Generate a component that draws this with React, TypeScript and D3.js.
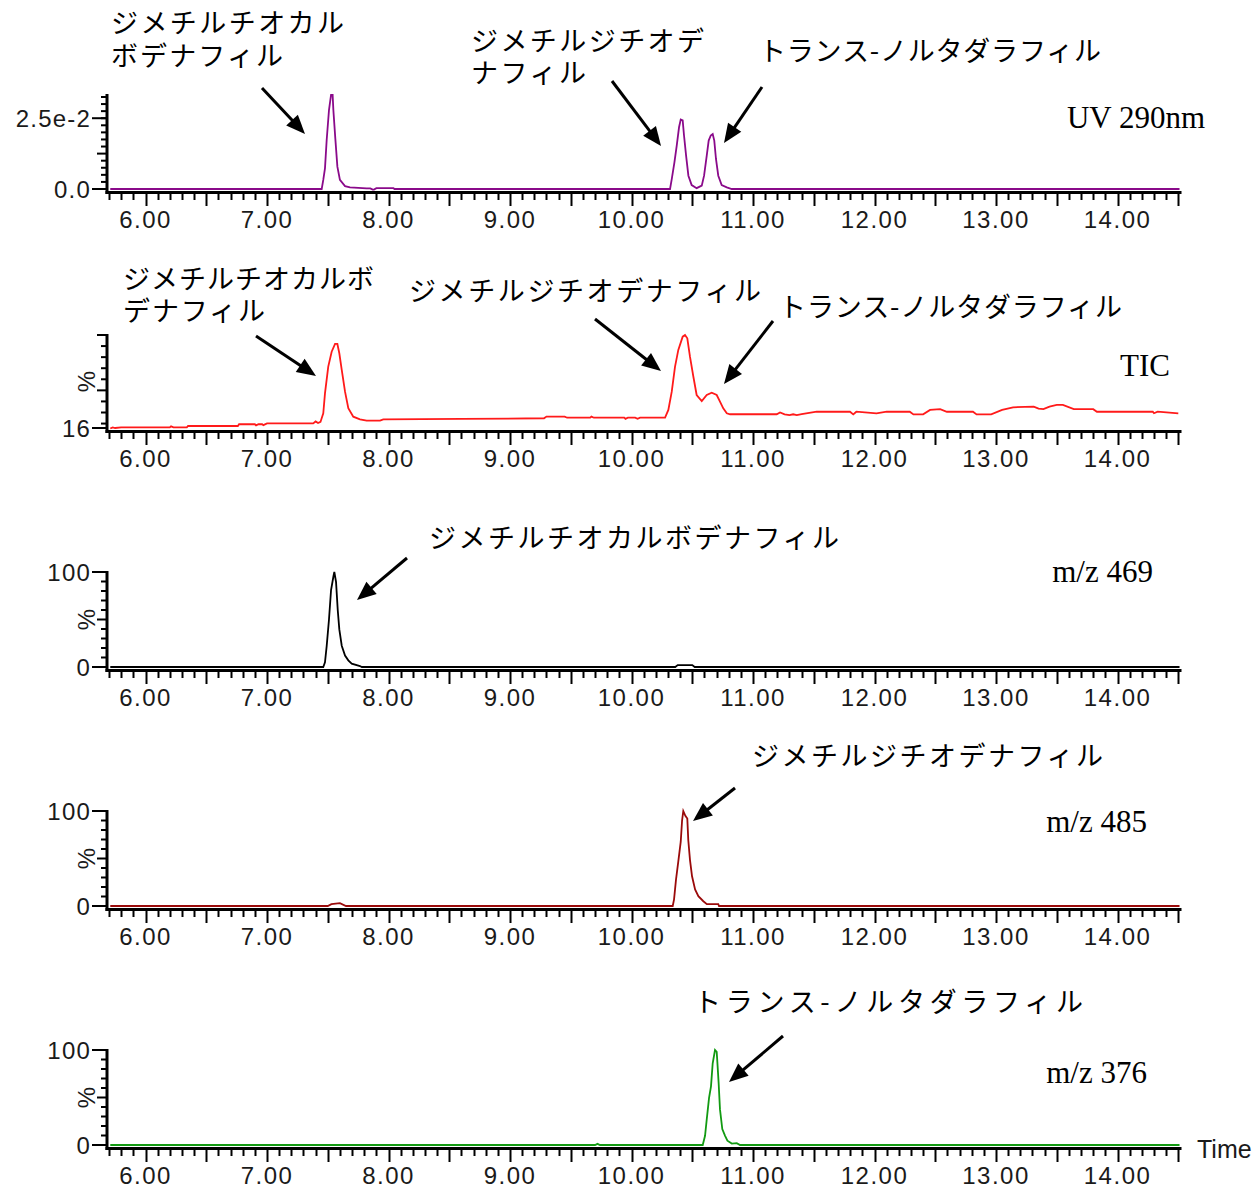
import React from 'react';
import * as d3 from 'd3';

// ---------- DATA ----------
const xTickValues = [6, 7, 8, 9, 10, 11, 12, 13, 14];
const xTickLabels = ['6.00', '7.00', '8.00', '9.00', '10.00', '11.00', '12.00', '13.00', '14.00'];

// UV 290nm trace (time in min, absorbance)
const uvTime = [5.71, 7.45, 7.463, 7.477, 7.491, 7.51, 7.527, 7.54, 7.546, 7.562, 7.579, 7.6, 7.642, 7.683, 7.82, 7.85, 7.87, 7.88, 7.9, 8.04, 8.05,
  10.317, 10.331, 10.353, 10.372, 10.391, 10.405, 10.421, 10.432, 10.449, 10.468, 10.495, 10.536, 10.578, 10.597, 10.619, 10.635, 10.652, 10.668,
  10.681, 10.695, 10.714, 10.742, 10.784, 10.825, 14.51];
const uvValue = [0, 0, 0.0032, 0.0073, 0.0173, 0.0279, 0.0332, 0.0332, 0.0279, 0.0179, 0.0079, 0.0032, 0.001, 0.0006, 0.0002, 0.0002, -0.0002, -0.0002, 0.0003, 0.0003, 0,
  0, 0.0035, 0.0094, 0.0153, 0.0218, 0.0245, 0.0242, 0.0189, 0.0118, 0.0047, 0.0014, 0.0003, 0.0012, 0.0047, 0.0118, 0.0171, 0.0189, 0.0194,
  0.0171, 0.0106, 0.0047, 0.0014, 0.0006, 0, 0];

// TIC trace (time, %)
const ticTime = [5.71, 5.73, 5.75, 5.8, 6.2, 6.21, 6.23, 6.34, 6.35, 6.76, 6.77, 6.9, 6.91, 6.93, 6.96, 6.97, 7.0, 7.38, 7.4, 7.42, 7.44,
  7.463, 7.477, 7.504, 7.532, 7.56, 7.579, 7.595, 7.615, 7.642, 7.669, 7.71, 7.765, 7.82, 7.93, 7.957, 8.6, 9.28, 9.3, 9.45, 9.47,
  9.66, 9.67, 9.69, 9.94, 9.95, 9.97, 10.03, 10.05, 10.07, 10.276, 10.303, 10.331, 10.358, 10.385, 10.421, 10.44, 10.459, 10.481, 10.509,
  10.536, 10.578, 10.619, 10.66, 10.701, 10.728, 10.755, 10.784, 10.811, 11.195, 11.222, 11.26, 11.3, 11.33, 11.36, 11.4, 11.524, 11.798,
  11.825, 11.85, 12.016, 12.1, 12.29, 12.32, 12.4, 12.457, 12.54, 12.595, 12.81, 12.84, 12.96, 13.05, 13.14, 13.31, 13.35, 13.39, 13.44,
  13.5, 13.55, 13.64, 13.8, 13.83, 14.29, 14.3, 14.33, 14.5];
const ticValue = [15.5, 16.6, 16.0, 16.6, 16.6, 17.5, 16.6, 16.6, 17.8, 17.8, 19.4, 19.4, 18.4, 19.4, 19.4, 18.6, 20.2, 20.2, 21.9, 20.5, 21.5,
  29.3, 47.3, 71.4, 84.9, 91.9, 91.9, 83.5, 68.4, 48.8, 33.8, 26.2, 23.8, 22.6, 22.6, 23.8, 24.2, 24.8, 26.3, 26.3, 25.3,
  25.3, 26.3, 25.3, 25.3, 24.3, 25.3, 25.3, 24.3, 25.3, 25.3, 32.3, 48.8, 71.4, 86.5, 98.5, 100, 97, 80.4, 62.3,
  45.8, 40.4, 45.8, 47.9, 45.8, 39.8, 33.8, 29.3, 28.4, 28.4, 30.0, 28.4, 27.7, 28.4, 27.7, 28.5, 30.7, 30.7,
  28.3, 30.7, 29.3, 30.7, 30.7, 28.3, 28.3, 32.3, 33, 30.7, 30.7, 28.3, 28.3, 32.3, 34.7, 35.3, 33.5, 33, 35.3,
  36.8, 36.8, 33, 33, 30.7, 30.7, 29.3, 30.7, 29.3];

// m/z 469 (%)
const mz469Time = [5.71, 7.463, 7.477, 7.491, 7.51, 7.527, 7.546, 7.554, 7.568, 7.582, 7.595, 7.615, 7.642, 7.669, 7.697, 7.765, 7.78, 10.36, 10.38, 10.5, 10.52, 14.51];
const mz469Value = [0, 0, 5, 22, 50, 81, 95, 100, 89.6, 60, 39.6, 22.4, 12, 7, 3.5, 1, 0, 0, 2, 2, 0, 0];

// m/z 485 (%)
const mz485Time = [5.71, 7.5, 7.53, 7.6, 7.65, 10.339, 10.35, 10.366, 10.385, 10.405, 10.416, 10.426, 10.443, 10.459, 10.467, 10.481, 10.498, 10.523, 10.55, 10.591, 10.62, 10.714, 10.72, 14.51];
const mz485Value = [0, 0, 2, 3, 0, 0, 7, 27.8, 46.9, 67.7, 90, 100, 95, 92, 69.5, 48.6, 31.3, 17.4, 10.4, 5, 2, 2, 0, 0];

// m/z 376 (%)
const mz376Time = [5.71, 9.7, 9.72, 9.74, 10.586, 10.605, 10.619, 10.638, 10.654, 10.668, 10.687, 10.701, 10.706, 10.717, 10.728, 10.747, 10.77, 10.789, 10.825, 10.866, 10.893, 14.51];
const mz376Value = [0, 0, 1.2, 0, 0, 9.7, 27, 49.6, 61.8, 86, 100, 98, 88, 65, 37.5, 16.7, 9.7, 4.5, 1.5, 2, 0, 0];

// Annotation labels
const nameA = 'ジメチルチオカルボデナフィル';
const nameB = 'ジメチルジチオデナフィル';
const nameC = 'トランス-ノルタダラフィル';

// ---------- LAYOUT ----------
const W = 1260;
const H = 1190;
const X0 = 107;
const X1 = 1180;
const xScale = d3.scaleLinear().domain([5.683, 14.514]).range([X0, X1]);

const JP_FONT = '"Noto Sans CJK JP", sans-serif';
const SANS = '"Liberation Sans", Arial, sans-serif';
const SERIF = '"Liberation Serif", "Times New Roman", serif';

type Line = { text: string; y: number; len: number };
type Ann = { x: number; lines: Line[] };
type Arrow = { x1: number; y1: number; x2: number; y2: number };

type Panel = {
  key: string;
  times: number[];
  values: number[];
  color: string;
  top: number;
  zero: number;
  domain: [number, number];
  minor: number[];
  medium: number[];
  labeled: { v: number; t: string }[];
  pct: boolean;
  right: { t: string; x: number; y: number };
  anns: Ann[];
  arrows: Arrow[];
};

const panels: Panel[] = [
  {
    key: 'uv', times: uvTime, values: uvValue, color: '#8a0a8a', top: 95, zero: 189, domain: [0, 0.0332],
    minor: d3.range(0, 14).map(i => i * 0.0025), medium: [0.0125],
    labeled: [{ v: 0, t: '0.0' }, { v: 0.025, t: '2.5e-2' }], pct: false,
    right: { t: 'UV 290nm', x: 1205, y: 128 },
    anns: [
      { x: 111, lines: [{ text: 'ジメチルチオカル', y: 23, len: 233 }, { text: 'ボデナフィル', y: 56, len: 172 }] },
      { x: 471, lines: [{ text: 'ジメチルジチオデ', y: 41, len: 233 }, { text: 'ナフィル', y: 73, len: 115 }] },
      { x: 759, lines: [{ text: nameC, y: 51, len: 342 }] },
    ],
    arrows: [
      { x1: 262, y1: 88, x2: 305, y2: 134 },
      { x1: 612, y1: 81, x2: 661, y2: 146 },
      { x1: 762, y1: 87, x2: 724, y2: 143 },
    ],
  },
  {
    key: 'tic', times: ticTime, values: ticValue, color: '#ff1a1a', top: 335, zero: 428, domain: [16, 100],
    minor: d3.range(20, 101, 10), medium: [50, 100],
    labeled: [{ v: 16, t: '16' }], pct: true,
    right: { t: 'TIC', x: 1170, y: 376 },
    anns: [
      { x: 123, lines: [{ text: 'ジメチルチオカルボ', y: 279, len: 251 }, { text: 'デナフィル', y: 311, len: 142 }] },
      { x: 409, lines: [{ text: nameB, y: 291, len: 352 }] },
      { x: 779, lines: [{ text: nameC, y: 307, len: 343 }] },
    ],
    arrows: [
      { x1: 256, y1: 336, x2: 316, y2: 376 },
      { x1: 595, y1: 319, x2: 661, y2: 371 },
      { x1: 773, y1: 321, x2: 724, y2: 384 },
    ],
  },
  {
    key: 'mz469', times: mz469Time, values: mz469Value, color: '#000000', top: 572, zero: 667, domain: [0, 100],
    minor: d3.range(0, 101, 10), medium: [50],
    labeled: [{ v: 0, t: '0' }, { v: 100, t: '100' }], pct: true,
    right: { t: 'm/z 469', x: 1153, y: 582 },
    anns: [{ x: 429, lines: [{ text: nameA, y: 538, len: 410 }] }],
    arrows: [{ x1: 407, y1: 558, x2: 357, y2: 600 }],
  },
  {
    key: 'mz485', times: mz485Time, values: mz485Value, color: '#9a0a0a', top: 811, zero: 906, domain: [0, 100],
    minor: d3.range(0, 101, 10), medium: [50],
    labeled: [{ v: 0, t: '0' }, { v: 100, t: '100' }], pct: true,
    right: { t: 'm/z 485', x: 1147, y: 832 },
    anns: [{ x: 752, lines: [{ text: nameB, y: 756, len: 351 }] }],
    arrows: [{ x1: 735, y1: 788, x2: 693, y2: 821 }],
  },
  {
    key: 'mz376', times: mz376Time, values: mz376Value, color: '#129a12', top: 1050, zero: 1145, domain: [0, 100],
    minor: d3.range(0, 101, 10), medium: [50],
    labeled: [{ v: 0, t: '0' }, { v: 100, t: '100' }], pct: true,
    right: { t: 'm/z 376', x: 1147, y: 1083 },
    anns: [{ x: 694, lines: [{ text: nameC, y: 1002, len: 389 }] }],
    arrows: [{ x1: 783, y1: 1036, x2: 729, y2: 1082 }],
  },
];

const xMinor = d3.range(57, 146);

function ArrowMark({ a }: { a: Arrow }) {
  const dx = a.x2 - a.x1;
  const dy = a.y2 - a.y1;
  const L = Math.hypot(dx, dy);
  const ux = dx / L;
  const uy = dy / L;
  const hl = 19;
  const hw = 8;
  const bx = a.x2 - ux * hl;
  const by = a.y2 - uy * hl;
  const pts = [
    [a.x2, a.y2],
    [bx - uy * hw, by + ux * hw],
    [bx + uy * hw, by - ux * hw],
  ];
  return (
    <g>
      <line x1={a.x1} y1={a.y1} x2={bx + ux * 2} y2={by + uy * 2} stroke="#000" strokeWidth={3} />
      <polygon points={pts.map(p => p.join(',')).join(' ')} fill="#000" />
    </g>
  );
}

function PanelView({ p }: { p: Panel }) {
  const y = d3.scaleLinear().domain(p.domain).range([p.zero, p.top]);
  const line = d3.line<number>()
    .x((_, i) => xScale(p.times[i]))
    .y(d => y(d))
    .curve(d3.curveLinear);
  const axisY = p.zero + 3.5;
  return (
    <g>
      {/* trace */}
      <path d={line(p.values) || ''} fill="none" stroke={p.color} strokeWidth={1.8} strokeLinejoin="miter" />
      {/* x axis */}
      <line x1={X0 - 1.5} x2={X1 + 1.5} y1={axisY} y2={axisY} stroke="#000" strokeWidth={3} />
      {xMinor.map(i => {
        const major = i % 5 === 0;
        const xx = Math.round(xScale(i / 10)) + 0.5;
        return <line key={i} x1={xx} x2={xx} y1={axisY} y2={p.zero + (major ? 17 : 11)} stroke="#000" strokeWidth={2} />;
      })}
      {xTickValues.map((v, i) => (
        <text key={v} x={xScale(v)} y={p.zero + 39} textAnchor="middle"
          fontFamily={SANS} fontSize={24} letterSpacing={1.5} fill="#1a1a1a">{xTickLabels[i]}</text>
      ))}
      {/* y axis */}
      <line x1={X0} x2={X0} y1={p.top - 1} y2={axisY + 1.5} stroke="#000" strokeWidth={3} />
      {p.minor.map(v => (
        <line key={'m' + v} x1={X0 - (p.medium.includes(v) ? 10 : 6)} x2={X0} y1={y(v)} y2={y(v)} stroke="#000" strokeWidth={2} />
      ))}
      {p.labeled.map(l => (
        <g key={'l' + l.v}>
          <line x1={X0 - 15} x2={X0} y1={y(l.v)} y2={y(l.v)} stroke="#000" strokeWidth={2} />
          <text x={X0 - 16} y={y(l.v) + 8.5} textAnchor="end" fontFamily={SANS}
            fontSize={24} letterSpacing={1.2} fill="#1a1a1a">{l.t}</text>
        </g>
      ))}
      {p.pct && (
        <text transform={`translate(86,${(p.top + p.zero) / 2}) rotate(-90)`} textAnchor="middle" dominantBaseline="central"
          fontFamily={SANS} fontSize={24} fill="#1a1a1a">%</text>
      )}
      {/* right label */}
      <text x={p.right.x} y={p.right.y} textAnchor="end" fontFamily={SERIF} fontSize={31} fill="#000">{p.right.t}</text>
      {/* annotations */}
      {p.anns.map((a, i) => (
        <text key={'a' + i} fontFamily={JP_FONT} fontSize={27} fill="#000">
          {a.lines.map((ln, j) => (
            <tspan key={j} x={a.x} y={ln.y + 9.5} textLength={ln.len} lengthAdjust="spacing">{ln.text}</tspan>
          ))}
        </text>
      ))}
      {p.arrows.map((a, i) => <ArrowMark key={'ar' + i} a={a} />)}
    </g>
  );
}

export default function App() {
  return (
    <svg width={W} height={H} viewBox={`0 0 ${W} ${H}`} style={{ position: 'absolute', left: 0, top: 0, background: '#fff' }}>
      <rect x={0} y={0} width={W} height={H} fill="#fff" />
      {panels.map(p => <PanelView key={p.key} p={p} />)}
      <text x={1197} y={1158} fontFamily={SANS} fontSize={25} fill="#1a1a1a">Time</text>
    </svg>
  );
}
